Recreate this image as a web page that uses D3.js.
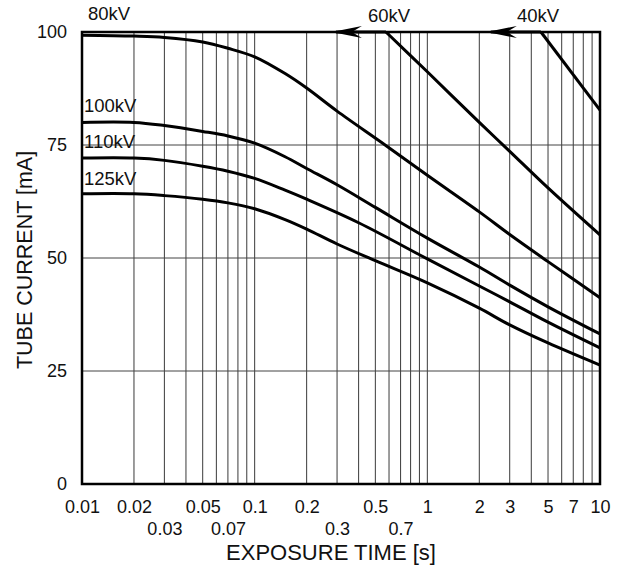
<!DOCTYPE html>
<meta charset="utf-8">
<script src="https://d3js.org/d3.v7.min.js"></script>
<style>
  body { margin: 0; background: #fff; }
  text { font-family: "Liberation Sans", Arial, sans-serif; fill: #111; }
</style>
<div id="chart"></div>
<script>

// data (exposure time [s], tube current [mA])
var kv80  = [[0.01,99.3],[0.02,99.1],[0.03,98.8],[0.05,97.8],[0.07,96.4],[0.1,94.5],[0.15,90.8],[0.2,87.6],[0.3,82.5],[0.58,74.8],[1,68.3],[2,60.2],[3,55.2],[5,49.2],[10,41.2]];
var kv100 = [[0.01,80],[0.02,80],[0.03,79.3],[0.05,78],[0.07,77],[0.1,75.4],[0.15,72.4],[0.2,69.8],[0.3,66.2],[0.5,61.2],[1,54.4],[2,48],[3,44],[5,39.2],[10,33.2]];
var kv110 = [[0.01,72.1],[0.02,72.1],[0.03,71.6],[0.05,70.3],[0.07,69.2],[0.1,67.6],[0.15,65],[0.2,63],[0.4,57.8],[1,49.8],[2,43.8],[3,40.3],[5,35.8],[10,30.1]];
var kv125 = [[0.01,64.2],[0.02,64.2],[0.03,63.8],[0.05,63],[0.07,62.2],[0.1,60.9],[0.15,58.5],[0.2,56.4],[0.3,53.1],[0.5,49.4],[1,44.5],[2,38.9],[3,35.2],[5,31.2],[10,26.3]];
var kv60  = [[0.576,100],[1,91.2],[2,80],[3,73.6],[5,65.5],[10,55.1]];
var kv40  = [[4.55,100],[10,82.7]];

var seriesNames = ["80kV", "100kV", "110kV", "125kV", "60kV", "40kV"];
var seriesData  = [kv80, kv100, kv110, kv125, kv60, kv40];

var xTopRow    = [0.01, 0.02, 0.05, 0.1, 0.2, 0.5, 1, 2, 3, 5, 7, 10];
var xBottomRow = [0.03, 0.07, 0.3, 0.7];
var yTicks     = [0, 25, 50, 75, 100];

var width = 620, height = 569;
var margin = {top: 32, right: 20, bottom: 85, left: 82};

var svg = d3.select("#chart").append("svg")
  .attr("width", width)
  .attr("height", height);

var x = d3.scaleLog()
  .domain([0.01, 10])
  .range([margin.left, width - margin.right]);

var y = d3.scaleLinear()
  .domain([0, 100])
  .range([height - margin.bottom, margin.top]);

// vertical grid: every 1..9 step in each decade
var gridX = [];
[0.01, 0.1, 1].forEach(function(dec) {
  for (var i = 2; i <= 9; i++) gridX.push(dec * i);
});
gridX.push(0.1, 1);

svg.append("g")
  .selectAll("line")
  .data(gridX)
  .enter().append("line")
    .attr("x1", function(d) { return x(d); })
    .attr("x2", function(d) { return x(d); })
    .attr("y1", y(0))
    .attr("y2", y(100))
    .attr("stroke", "#3a3a3a")
    .attr("stroke-width", 1);

// horizontal grid
svg.append("g")
  .selectAll("line")
  .data([25, 50, 75])
  .enter().append("line")
    .attr("x1", x(0.01))
    .attr("x2", x(10))
    .attr("y1", function(d) { return y(d); })
    .attr("y2", function(d) { return y(d); })
    .attr("stroke", "#444")
    .attr("stroke-width", 1);

// Y axis labels
var yAxis = svg.append("g")
  .attr("transform", "translate(" + margin.left + ",0)")
  .call(d3.axisLeft(y).tickValues(yTicks).tickSize(0).tickPadding(15));
yAxis.select(".domain").remove();
yAxis.selectAll("text").style("font-size", "18px").attr("fill", "#111");

// X axis labels, two rows
var xAxis1 = svg.append("g")
  .attr("transform", "translate(0," + y(0) + ")")
  .call(d3.axisBottom(x).tickValues(xTopRow).tickSize(0).tickPadding(16)
    .tickFormat(function(d) { return String(d); }));
xAxis1.select(".domain").remove();
xAxis1.selectAll("text").style("font-size", "18px").attr("fill", "#111");

var xAxis2 = svg.append("g")
  .attr("transform", "translate(0," + y(0) + ")")
  .call(d3.axisBottom(x).tickValues(xBottomRow).tickSize(0).tickPadding(38)
    .tickFormat(function(d) { return String(d); }));
xAxis2.select(".domain").remove();
xAxis2.selectAll("text").style("font-size", "18px").attr("fill", "#111");

// axis titles
svg.append("text")
  .attr("x", 331)
  .attr("y", 560)
  .attr("text-anchor", "middle")
  .style("font-size", "22px")
  .text("EXPOSURE TIME [s]");

svg.append("text")
  .attr("transform", "translate(32," + (y(50) + 2) + ") rotate(-90)")
  .attr("text-anchor", "middle")
  .style("font-size", "21.5px")
  .text("TUBE CURRENT [mA]");

// curves
var line = d3.line()
  .x(function(d) { return x(d[0]); })
  .y(function(d) { return y(d[1]); })
  .curve(d3.curveCatmullRom.alpha(0.5));

svg.append("g")
  .selectAll("path")
  .data(seriesData)
  .enter().append("path")
    .attr("d", line)
    .attr("fill", "none")
    .attr("stroke", "#000")
    .attr("stroke-width", 3)
    .attr("stroke-linejoin", "round");

// arrows along the top edge for 60kV and 40kV
function arrow(fromT, tipT) {
  var yy = y(100), xt = x(tipT), xs = x(fromT);
  svg.append("line")
    .attr("x1", xt + 4).attr("x2", xs)
    .attr("y1", yy).attr("y2", yy)
    .attr("stroke", "#000").attr("stroke-width", 3);
  svg.append("path")
    .attr("d", "M" + xt + "," + yy +
               "L" + (xt + 30) + "," + (yy - 6) +
               "L" + (xt + 20) + "," + yy +
               "L" + (xt + 30) + "," + (yy + 6) + "Z")
    .attr("fill", "#000");
}
arrow(kv60[0][0], 0.28);
arrow(kv40[0][0], 2.21);

// frame
svg.append("rect")
  .attr("x", x(0.01))
  .attr("y", y(100))
  .attr("width", x(10) - x(0.01))
  .attr("height", y(0) - y(100))
  .attr("fill", "none")
  .attr("stroke", "#000")
  .attr("stroke-width", 2.5);

// series labels
var labelPos = {
  "80kV":  {x: 88,  y: 20},
  "100kV": {x: 84,  y: 112},
  "110kV": {x: 84,  y: 148},
  "125kV": {x: 84,  y: 185},
  "60kV":  {x: 368, y: 22},
  "40kV":  {x: 517, y: 22}
};
svg.append("g")
  .selectAll("text")
  .data(seriesNames)
  .enter().append("text")
    .attr("x", function(d) { return labelPos[d].x; })
    .attr("y", function(d) { return labelPos[d].y; })
    .style("font-size", "18.5px")
    .text(function(d) { return d; });

</script>
